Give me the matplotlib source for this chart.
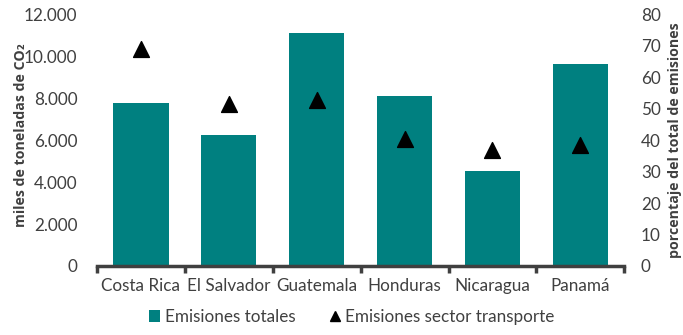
import matplotlib
matplotlib.use("Agg")
import matplotlib.pyplot as plt
import numpy as np
from matplotlib.lines import Line2D
from matplotlib.patches import Patch

plt.rcParams['font.family'] = ['Lato', 'DejaVu Sans']

countries = ["Costa Rica", "El Salvador", "Guatemala", "Honduras", "Nicaragua", "Panamá"]
emisiones_totales = [7750, 6240, 11100, 8100, 4520, 9620]
transporte_pct = [68.9, 51.4, 52.7, 40.3, 36.8, 38.4]
left_ticks = [0, 2000, 4000, 6000, 8000, 10000, 12000]
left_labels = ["0", "2.000", "4.000", "6.000", "8.000", "10.000", "12.000"]
right_ticks = [0, 10, 20, 30, 40, 50, 60, 70, 80]

teal = "#008080"
txt = "#404040"
fs = 12.3

fig = plt.figure(figsize=(6.83, 3.35), dpi=100)
ax = fig.add_axes([0.142, 0.206, 0.772, 0.752])
x = np.arange(len(countries))
ax.bar(x, emisiones_totales, width=0.63, color=teal, zorder=2)
ax.set_xlim(-0.5, len(countries) - 0.5)
ax.set_ylim(0, 12000)
ax.set_yticks(left_ticks)
ax.set_yticklabels(left_labels, fontsize=fs, color=txt)
ax.tick_params(axis='y', length=0, pad=14)
ax.set_xticks(x)
ax.set_xticklabels(countries, fontsize=fs, color=txt)
ax.tick_params(axis='x', which='major', length=0, pad=9)
ax.set_xticks(np.arange(-0.5, len(countries), 1.0), minor=True)
ax.tick_params(axis='x', which='minor', length=5, width=2.5, color="#404040", direction='out')
for s in ["top", "left", "right"]:
    ax.spines[s].set_visible(False)
ax.spines["bottom"].set_color("#404040")
ax.spines["bottom"].set_linewidth(2.5)
ax.set_ylabel("miles de toneladas de CO₂", fontsize=10.2, fontweight='bold', color=txt,
              family=['Open Sans', 'DejaVu Sans'])
ax.yaxis.set_label_coords(-0.13, 0.52)

ax2 = ax.twinx()
ax2.scatter(x, transporte_pct, marker='^', s=130, color='black', zorder=3)
ax2.set_ylim(0, 80)
ax2.set_yticks(right_ticks)
ax2.set_yticklabels([str(t) for t in right_ticks], fontsize=fs, color=txt)
ax2.tick_params(axis='y', length=0, pad=12)
for s in ["top", "left", "right", "bottom"]:
    ax2.spines[s].set_visible(False)
ax2.set_ylabel("porcentaje del total de emisiones", fontsize=10.2, fontweight='bold', color=txt,
               labelpad=5, family=['Open Sans', 'DejaVu Sans'])

handles = [Patch(facecolor=teal, edgecolor='none', label="Emisiones totales"),
           Line2D([], [], marker='^', color='black', linestyle='none', markersize=7,
                  label="Emisiones sector transporte")]
fig.legend(handles=handles, loc='lower center', bbox_to_anchor=(0.515, -0.015), ncol=2,
           frameon=False, fontsize=fs, handlelength=0.6, handletextpad=0.3, columnspacing=2.0,
           labelcolor=txt)

fig.savefig("out.png", dpi=100)
